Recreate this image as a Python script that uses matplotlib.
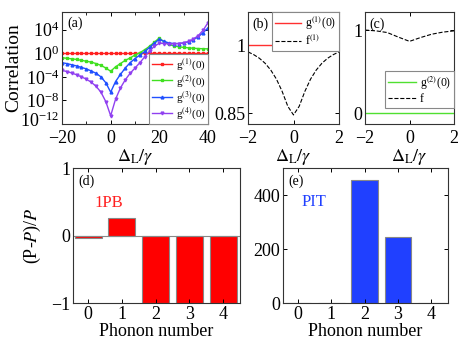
import numpy as np
import matplotlib
matplotlib.use('Agg')
import matplotlib.pyplot as plt
from matplotlib.transforms import ScaledTranslation

plt.rcParams['font.family'] = ['Liberation Serif', 'DejaVu Serif']
plt.rcParams['mathtext.fontset'] = 'stix'
plt.rcParams['xtick.direction'] = 'in'
plt.rcParams['ytick.direction'] = 'in'
plt.rcParams['axes.linewidth'] = 0.8

# panel (a): log10 of correlation functions vs detuning
det_a = [-20, -18, -16, -14, -12, -10, -8, -6, -4, -2, 0, 2, 4, 6, 8, 10,
         12, 14, 16, 18, 20, 22, 24, 26, 28, 30, 32, 34, 36, 38, 40]
log_g1 = [0.0] * 31
log_g2 = [-0.76, -0.85, -0.95, -1.05, -1.2, -1.35, -1.5, -1.75, -2.05, -2.5, -3.05,
          -2.3, -1.75, -1.2, -0.8, -0.3, 0.1, 0.6, 1.2, 1.9, 2.6,
          1.9, 1.5, 1.25, 1.1, 1.0, 0.92, 0.85, 0.8, 0.77, 0.75]
log_g3 = [-1.6, -1.75, -1.95, -2.15, -2.4, -2.65, -3.0, -3.4, -4.0, -5.0, -6.6,
          -4.8, -3.6, -2.5, -1.6, -0.9, -0.3, 0.3, 1.0, 1.7, 2.4,
          2.0, 1.75, 1.65, 1.65, 1.75, 1.95, 2.3, 2.8, 3.5, 4.3]
log_g4 = [-2.9, -3.1, -3.35, -3.65, -4.0, -4.4, -4.9, -5.6, -6.6, -8.2, -10.6,
          -7.8, -5.9, -4.5, -3.4, -2.5, -1.6, -0.6, 0.4, 1.2, 1.7,
          1.65, 1.6, 1.6, 1.65, 1.75, 2.0, 2.4, 3.0, 3.9, 5.2]

# panel (b)
det_b = [-2, -1.75, -1.5, -1.25, -1, -0.75, -0.5, -0.25, 0,
         0.25, 0.5, 0.75, 1, 1.25, 1.5, 1.75, 2]
g1_b = [1.0] * 17
f1_b = [0.985, 0.979, 0.971, 0.96, 0.945, 0.925, 0.898, 0.865, 0.846,
        0.865, 0.898, 0.925, 0.945, 0.96, 0.971, 0.979, 0.985]

# panel (c)
det_c = [-2, -1.5, -1, -0.5, 0, 0.5, 1, 1.5, 2]
g2_c = [0.005] * 9
f_c = [1.0, 0.99, 0.97, 0.915, 0.864, 0.91, 0.95, 0.975, 0.99]

# panels (d), (e)
phonon = [0, 1, 2, 3, 4]
dev_1pb = [-0.03, 0.26, -1.0, -1.0, -1.0]
dev_pit = [0.5, 0.5, 455, 244, 0.5]

W, H = 469, 353
fig = plt.figure(figsize=(W / 100, H / 100), dpi=100)

def box(l, t, r, b):
    return [l / W, 1 - b / H, (r - l) / W, (b - t) / H]

def style(ax):
    ax.tick_params(top=True, right=True, labelsize=13, length=3, width=0.7, pad=2)
    for s in ax.spines.values():
        s.set_color('#333333')

def small_legend(ax, fs=8.5, ls=0.15, **kw):
    leg = ax.legend(fontsize=fs, borderaxespad=0, fancybox=False, framealpha=1,
                    labelspacing=ls, borderpad=0.25, handletextpad=0.3, **kw)
    leg.get_frame().set_edgecolor('#888888')
    leg.get_frame().set_linewidth(0.8)
    return leg

xlab = '$\\Delta_{\\rm L}/\\gamma$'

# (a)
ax = fig.add_axes(box(62, 12, 208, 124))
x = np.array(det_a)
ax.plot(x, 10 ** np.array(log_g1), color='#ff2020', marker='s', ms=2, lw=1, label='g$^{(1)}$(0)')
ax.plot(x, 10 ** np.array(log_g2), color='#40e020', marker='s', ms=2, lw=1, label='g$^{(2)}$(0)')
ax.plot(x, 10 ** np.array(log_g3), color='#2050ff', marker='^', ms=2, lw=1, label='g$^{(3)}$(0)')
ax.plot(x, 10 ** np.array(log_g4), color='#9040f0', marker='v', ms=2, lw=1, label='g$^{(4)}$(0)')
ax.set_yscale('log')
ax.set_ylim(1e-12, 1e7)
ax.set_xlim(-20, 40)
ax.set_yticks([1e-12, 1e-8, 1e-4, 1e0, 1e4])
ax.yaxis.set_minor_locator(matplotlib.ticker.NullLocator())
ax.set_xticks([-20, 0, 20, 40])
ax.set_xticks([-10, 10, 30], minor=True)
style(ax)
ax.tick_params(axis='x', pad=4)
ax.tick_params(which='minor', top=True, length=2)
# lift the lowest decade label a little so it clears the "-20"
low = ax.get_yticklabels()[0]
low.set_transform(low.get_transform() + ScaledTranslation(0, 5 / 100, fig.dpi_scale_trans))
ax.set_ylabel('Correlation', fontsize=14)
ax.yaxis.set_label_coords(-0.27, 0.5)
ax.set_xlabel(xlab, fontsize=13, labelpad=0)
ax.text(0.04, 0.96, '(a)', transform=ax.transAxes, fontsize=10, va='top')
small_legend(ax, fs=8, ls=0.02, loc='lower right', handlelength=1.8)

# (b)
ax = fig.add_axes(box(248, 12, 339, 124))
ax.plot(det_b, g1_b, color='#ff3030', lw=1, label='g$^{(1)}$(0)')
ax.plot(det_b, f1_b, color='black', ls='--', lw=0.8, label='f$^{(1)}$')
ax.set_xlim(-2, 2)
ax.set_ylim(0.826, 1.073)
ax.set_yticks([0.85, 1])
ax.set_yticklabels(['0.85', '1'])
ax.set_xticks([-2, 0, 2])
style(ax)
ax.tick_params(axis='x', pad=4)
ax.set_xlabel(xlab, fontsize=13, labelpad=0)
ax.text(0.05, 0.95, '(b)', transform=ax.transAxes, fontsize=10, va='top')
small_legend(ax, loc='upper right', handlelength=2.2)

# (c)
ax = fig.add_axes(box(365, 12, 454, 124))
ax.plot(det_c, g2_c, color='#50e030', lw=1, label='g$^{(2)}$(0)')
ax.plot(det_c, f_c, color='black', ls='--', lw=0.8, label='f')
ax.set_xlim(-2, 2)
ax.set_ylim(-0.13, 1.217)
ax.set_yticks([0, 1])
ax.set_xticks([-2, 0, 2])
style(ax)
ax.tick_params(axis='x', pad=4)
ax.set_xlabel(xlab, fontsize=13, labelpad=0)
ax.text(0.05, 0.95, '(c)', transform=ax.transAxes, fontsize=10, va='top')
small_legend(ax, loc='lower right', handlelength=2.4, bbox_to_anchor=(1, 0.14))

# (d)
ax = fig.add_axes(box(73, 168, 240, 303))
ax.bar(phonon, dev_1pb, width=0.8, color='#ff0000', edgecolor='#888888', lw=0.8)
ax.axhline(0, color='#888888', lw=0.8)
ax.set_xlim(-0.45, 4.5)
ax.set_ylim(-1, 1)
ax.set_yticks([-1, 0, 1])
ax.set_xticks(phonon)
style(ax)
ax.set_xlabel('Phonon number', fontsize=13, labelpad=0)
ax.set_ylabel('(P-$\\mathit{P}$)/$\\mathit{P}$', fontsize=13)
ax.yaxis.set_label_coords(-0.18, 0.5)
ax.text(0.03, 0.95, '(d)', transform=ax.transAxes, fontsize=10, va='top')
ax.text(0.13, 0.74, '1PB', transform=ax.transAxes, fontsize=12, color='#ff2020', va='center')

# (e)
ax = fig.add_axes(box(283, 168, 448, 303))
ax.bar(phonon, dev_pit, width=0.8, color='#2040ff', edgecolor='#888888', lw=0.8)
ax.set_xlim(-0.45, 4.5)
ax.set_ylim(0, 500)
ax.set_yticks([0, 200, 400])
ax.set_xticks(phonon)
style(ax)
ax.set_xlabel('Phonon number', fontsize=13, labelpad=0)
ax.text(0.03, 0.95, '(e)', transform=ax.transAxes, fontsize=10, va='top')
ax.text(0.115, 0.75, 'PIT', transform=ax.transAxes, fontsize=12, color='#2040ff', va='center')

fig.savefig('out.png', dpi=100)
